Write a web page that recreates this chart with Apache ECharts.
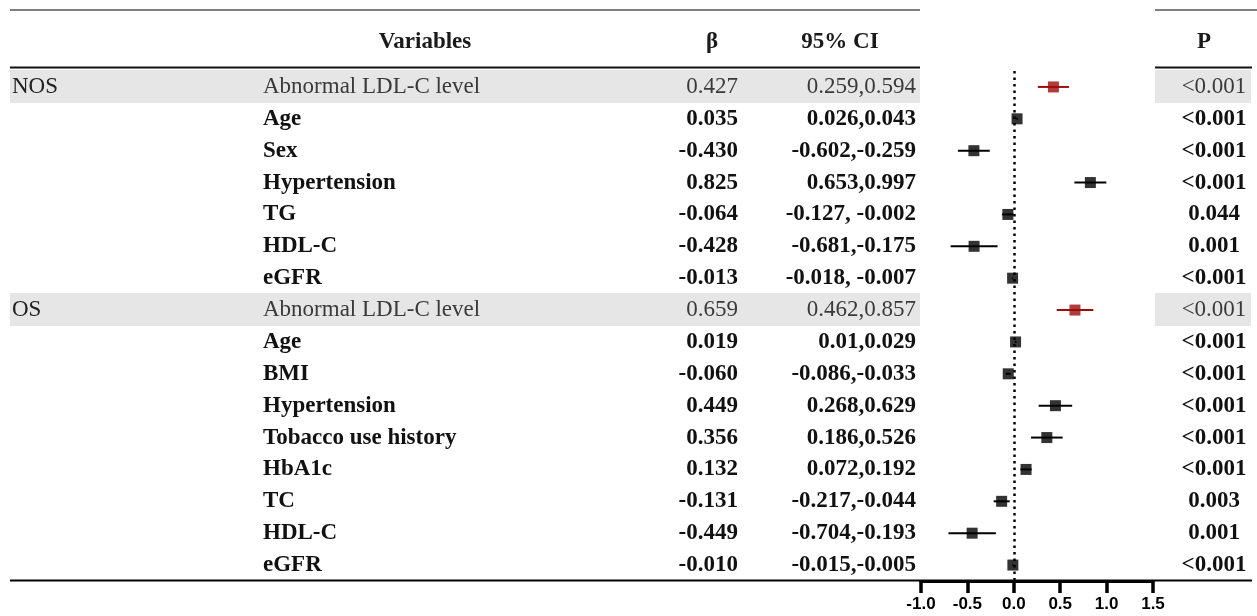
<!DOCTYPE html>
<html>
<head>
<meta charset="utf-8">
<script src="https://cdn.jsdelivr.net/npm/echarts@6/dist/echarts.min.js"></script>
<style>html,body{margin:0;padding:0;background:#fff}#c{width:1257px;height:616px}</style>
</head>
<body>
<div id="c"></div>
<script>
const groups = ['NOS','','','','','','','OS','','','','','','','',''];
const variables = ['Abnormal LDL-C level','Age','Sex','Hypertension','TG','HDL-C','eGFR',
  'Abnormal LDL-C level','Age','BMI','Hypertension','Tobacco use history','HbA1c','TC','HDL-C','eGFR'];
const beta = [0.427,0.035,-0.430,0.825,-0.064,-0.428,-0.013,0.659,0.019,-0.060,0.449,0.356,0.132,-0.131,-0.449,-0.010];
const ciLow = [0.259,0.026,-0.602,0.653,-0.127,-0.681,-0.018,0.462,0.01,-0.086,0.268,0.186,0.072,-0.217,-0.704,-0.015];
const ciHigh = [0.594,0.043,-0.259,0.997,-0.002,-0.175,-0.007,0.857,0.029,-0.033,0.629,0.526,0.192,-0.044,-0.193,-0.005];
const ciText = ['0.259,0.594','0.026,0.043','-0.602,-0.259','0.653,0.997','-0.127, -0.002','-0.681,-0.175','-0.018, -0.007',
  '0.462,0.857','0.01,0.029','-0.086,-0.033','0.268,0.629','0.186,0.526','0.072,0.192','-0.217,-0.044','-0.704,-0.193','-0.015,-0.005'];
const pText = ['<0.001','<0.001','<0.001','<0.001','0.044','0.001','<0.001','<0.001','<0.001','<0.001','<0.001','<0.001','<0.001','0.003','0.001','<0.001'];
const highlight = [true,false,false,false,false,false,false,true,false,false,false,false,false,false,false,false];
const headers = ['Variables','β','95% CI','P'];
const tickValues = [-1.0,-0.5,0.0,0.5,1.0,1.5];
const tickLabels = ['-1.0','-0.5','0.0','0.5','1.0','1.5'];

const SERIF = '"Liberation Serif","Times New Roman",serif';
const RED = '#9e0b0b';
const rowIdx = variables.map((_, i) => i);

const chart = echarts.init(document.getElementById('c'));

function txt(x, y, s, align, bold, color) {
  return {type:'text', x:x, y:y, style:{text:s, x:0, y:0, align:align, verticalAlign:'middle',
    font:(bold ? 'bold ' : '') + '23px ' + SERIF, fill:color}};
}

const option = {
  animation: false,
  backgroundColor: '#fff',
  grid: {left: 921, width: 232, top: 71, height: 510},
  xAxis: {
    type: 'value', min: -1, max: 1.5, interval: 0.5,
    splitLine: {show: false},
    axisLine: {show: true, lineStyle: {color: '#000', width: 3}},
    axisTick: {show: true, length: 12, lineStyle: {color: '#000', width: 3.5}},
    axisLabel: {
      margin: 15, color: '#000', fontSize: 17, fontWeight: 'bold',
      fontFamily: '"Liberation Sans",Arial,sans-serif',
      formatter: v => { const k = tickValues.findIndex(t => Math.abs(t - v) < 1e-9); return k >= 0 ? tickLabels[k] : ''; }
    }
  },
  yAxis: {
    type: 'category', inverse: true, data: rowIdx.map(String),
    show: false
  },
  graphic: [
    {type:'line', shape:{x1:10,y1:10,x2:920,y2:10}, style:{stroke:'#555', lineWidth:1.5}},
    {type:'line', shape:{x1:1155,y1:10,x2:1257,y2:10}, style:{stroke:'#555', lineWidth:1.5}},
    {type:'line', shape:{x1:10,y1:67.5,x2:920,y2:67.5}, style:{stroke:'#111', lineWidth:2}, z: 50},
    {type:'line', shape:{x1:1155,y1:67.5,x2:1252,y2:67.5}, style:{stroke:'#111', lineWidth:2}, z: 50},
    {type:'line', shape:{x1:10,y1:580.5,x2:1252,y2:580.5}, style:{stroke:'#000', lineWidth:2}},
    txt(425, 42, headers[0], 'center', true, '#1a1a1a'),
    txt(712, 42, headers[1], 'center', true, '#1a1a1a'),
    txt(840, 42, headers[2], 'center', true, '#1a1a1a'),
    txt(1204, 42, headers[3], 'center', true, '#1a1a1a')
  ],
  series: [
    {
      type: 'custom', name: 'table', clip: false, silent: true, z: 1,
      data: rowIdx.map(i => [0, i]),
      encode: {x: 0, y: 1},
      renderItem: function (params, api) {
        const i = params.dataIndex;
        const y = api.coord([0, i])[1];
        const hl = highlight[i];
        const col = hl ? '#3a3a3a' : '#111';
        const children = [];
        if (hl) {
          children.push({type:'rect', shape:{x:10, y:y-17, width:910, height:33}, style:{fill:'#e6e6e6'}});
          children.push({type:'rect', shape:{x:1155, y:y-17, width:96, height:33}, style:{fill:'#e6e6e6'}});
        }
        if (groups[i]) children.push(txt(12, y, groups[i], 'left', false, '#222'));
        children.push(txt(263, y, variables[i], 'left', !hl, col));
        children.push(txt(738, y, beta[i].toFixed(3), 'right', !hl, col));
        children.push(txt(916, y, ciText[i], 'right', !hl, col));
        children.push(txt(1214, y, pText[i], 'center', !hl, col));
        return {type:'group', children: children};
      }
    },
    {
      type: 'custom', name: 'ci', clip: false, silent: true, z: 3,
      data: rowIdx.map(i => [ciLow[i], ciHigh[i], i]),
      encode: {x: [0, 1], y: 2},
      renderItem: function (params, api) {
        const i = params.dataIndex;
        const p1 = api.coord([api.value(0), api.value(2)]);
        const p2 = api.coord([api.value(1), api.value(2)]);
        return {type:'line', shape:{x1:p1[0], y1:p1[1], x2:p2[0], y2:p2[1]},
          style:{stroke: highlight[i] ? RED : '#000', lineWidth: 2}};
      }
    },
    {
      type: 'scatter', name: 'beta', symbol: 'rect', symbolSize: 11, z: 4, silent: true,
      data: rowIdx.map(i => ({value: [beta[i], i], itemStyle: {color: highlight[i] ? RED : '#000'}})),
      markLine: {
        silent: true, symbol: 'none', label: {show: false},
        lineStyle: {color: '#000', width: 2.5, type: [2.5, 4]},
        data: [{xAxis: 0}]
      }
    }
  ]
};
chart.setOption(option);
</script>
</body>
</html>
